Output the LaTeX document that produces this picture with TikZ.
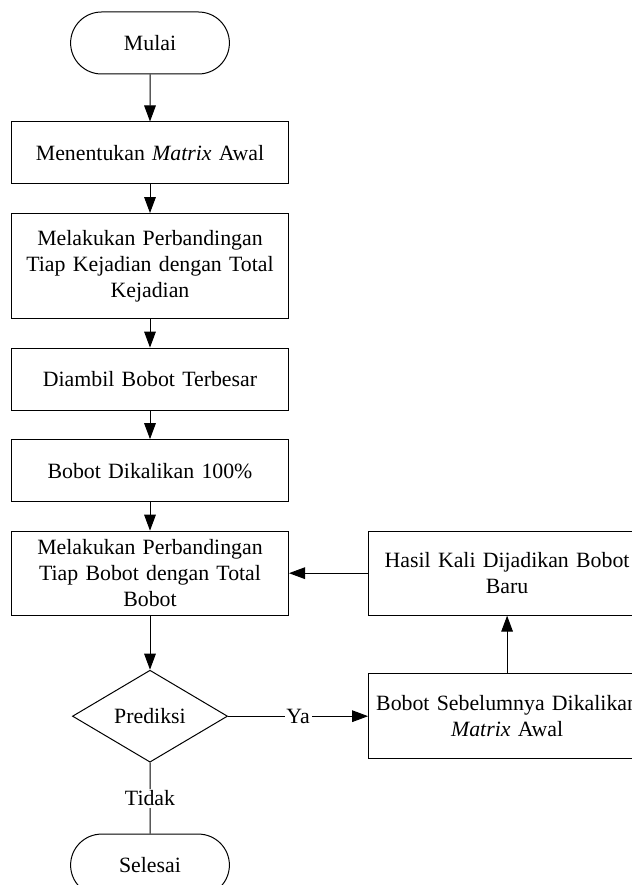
\documentclass[tikz,border=0pt]{standalone}
\usepackage{fontspec}
\setmainfont{Liberation Serif}
\usetikzlibrary{arrows.meta,positioning,shapes.geometric,shapes.misc}
\newcommand\choice[4]{% style, start node, end node, label
  \draw[#1] (#2) -- node[answer] {#4} (#3);
}

\begin{document}
\begin{tikzpicture}[x=0.55pt,y=-0.55pt]
  \tikzset{
    >={Triangle[length=8.8pt,width=6.4pt]},
    node distance=15.7pt,
    every node/.style={font=\fontsize{12}{14.3}\selectfont,line width=0.55pt},
    terminal/.style={rounded rectangle,draw,minimum width=94pt,minimum height=34.1pt},
    process/.style={rectangle,draw,align=center,text width=148.35pt,minimum height=34.1pt,inner sep=2pt},
    decision/.style={diamond,draw,minimum width=85.3pt,minimum height=50.6pt,inner sep=0pt},
    line/.style={line width=0.55pt},
    edge/.style={line,->},
    answer/.style={fill=white,inner sep=1pt},
  }
  \useasboundingbox (0,0) rectangle (632,885);
  \clip (0,0) rectangle (632,885);

  \node [terminal] (mulai) at (150,43) {Mulai};
  \node [process] (tentu) [below=25.85pt of mulai] {Menentukan \textit{Matrix} Awal};
  \node [process,minimum height=57.75pt] (banding1) [below=of tentu]
    {Melakukan Perbandingan\\Tiap Kejadian dengan Total\\Kejadian};
  \node [process] (ambil) [below=of banding1] {Diambil Bobot Terbesar};
  \node [process] (kali) [below=of ambil] {Bobot Dikalikan 100\%};
  \node [process,minimum height=46.2pt] (banding2) [below=of kali]
    {Melakukan Perbandingan\\Tiap Bobot dengan Total\\Bobot};
  \node [decision] (prediksi) [below=29.7pt of banding2] {Prediksi};
  \node [terminal] (selesai) [below=39pt of prediksi] {Selesai};
  \node [process,minimum height=46.2pt] (hasil) [right=43.5pt of banding2]
    {Hasil Kali Dijadikan Bobot\\Baru};
  \node [process,minimum height=46.75pt] (sebelum) at (hasil |- prediksi)
    {Bobot Sebelumnya Dikalikan\\\textit{Matrix} Awal};

  \draw[edge] (mulai) -- (tentu);
  \draw[edge] (tentu) -- (banding1);
  \draw[edge] (banding1) -- (ambil);
  \draw[edge] (ambil) -- (kali);
  \draw[edge] (kali) -- (banding2);
  \draw[edge] (banding2) -- (prediksi);
  \draw[edge] (sebelum) -- (hasil);
  \draw[edge] (hasil) -- (banding2);
  \choice{edge}{prediksi}{sebelum}{Ya}
  \choice{line}{prediksi}{selesai}{Tidak}
\end{tikzpicture}
\end{document}
